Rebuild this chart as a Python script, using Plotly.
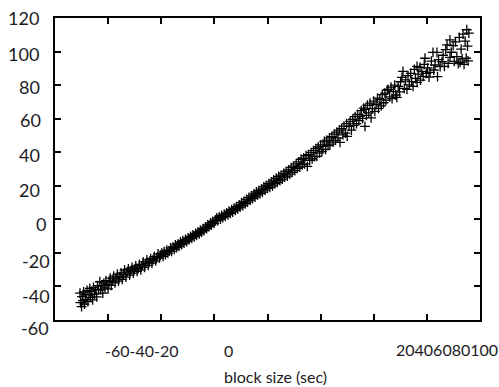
import plotly.graph_objects as go

# ---- data ----
X = [
    -50.6, -50.4, -50.0, -49.8, -49.5, -49.2, -48.9, -48.6, -48.3, -47.9, -47.6, -47.2, -46.9, -46.6, -46.2, -45.8,
    -45.5, -45.1, -44.7, -44.3, -44.0, -43.6, -43.1, -42.8, -42.4, -42.0, -41.6, -41.2, -40.8, -40.4, -40.0,
    -39.6, -39.2, -38.8, -38.3, -37.9, -37.4, -37.0, -36.5, -36.1, -35.6, -35.1, -34.7, -34.2, -33.8, -33.3,
    -32.9, -32.4, -31.9, -31.5, -31.0, -30.5, -30.1,
    -29.6, -29.1, -28.7, -28.2, -27.7, -27.3, -26.8, -26.3, -25.9, -25.4, -24.9, -24.5, -24.0, -23.5, -23.1,
    -22.6, -22.1, -21.7, -21.2, -20.7, -20.3,
    -19.8, -19.3, -18.9, -18.4, -17.9, -17.5, -17.0, -16.5, -16.1, -15.6, -15.1, -14.7, -14.2, -13.7, -13.3,
    -12.8, -12.3, -11.9, -11.4, -10.9, -10.4,
    -9.9, -9.5, -9.0, -8.5, -8.1, -7.6, -7.1, -6.7, -6.2, -5.7, -5.3, -4.8, -4.3, -3.9, -3.4, -2.9, -2.5, -2.0,
    -1.5, -1.1, -0.6, -0.1,
    0.4, 0.9, 1.3, 1.8, 2.3, 2.7, 3.2, 3.7, 4.1, 4.6, 5.1, 5.5, 6.0, 6.5, 6.9, 7.4, 7.9, 8.3, 8.8, 9.3, 9.7,
    10.2, 10.7, 11.1, 11.6, 12.1, 12.5, 13.0, 13.5, 13.9, 14.4, 14.9, 15.3, 15.8, 16.3, 16.7, 17.2, 17.7, 18.1,
    18.6, 19.1, 19.5,
    20.0, 20.5, 20.9, 21.4, 21.9, 22.3, 22.8, 23.3, 23.7, 24.2, 24.7, 25.1, 25.6, 26.1, 26.5, 27.0, 27.5, 27.9,
    28.4, 28.9, 29.3, 29.8,
    30.3, 30.8, 31.2, 31.7, 32.2, 32.6, 33.1, 33.6, 34.0, 34.5, 35.0, 35.4, 35.9, 36.4, 36.8, 37.3, 37.8, 38.2,
    38.6, 39.1, 39.6, 40.0,
    40.5, 40.9, 41.4, 41.9, 42.3, 42.8, 43.3, 43.5, 44.2, 44.7, 45.1, 45.6, 46.1, 46.5, 47.0, 47.3, 47.9, 48.4,
    48.8, 49.3, 49.8, 50.0,
    50.7, 51.1, 51.6, 52.1, 52.5, 53.0, 53.5, 53.9, 54.4, 54.8, 55.3, 55.8, 56.2, 56.7, 56.7, 57.2, 57.6, 58.1,
    58.6, 59.0, 59.5, 60.0,
    60.4, 60.9, 61.4, 61.8, 62.3, 62.8, 63.2, 63.7, 64.2, 64.6, 65.1, 65.4, 66.0, 66.5, 66.9, 67.4, 67.9, 68.3,
    68.7, 69.2, 69.7, 70.1,
    70.6, 71.0, 71.5, 72.0, 72.5, 72.9, 73.4, 73.9, 74.3, 74.8, 75.3, 75.7, 76.3, 76.3, 76.7, 77.4, 77.6, 78.1,
    78.6, 79.0, 79.3, 79.8,
    80.3, 80.8, 81.2, 81.7, 82.3, 82.6, 83.1, 83.8, 84.0, 84.4, 85.0, 85.7, 86.1, 86.6, 87.1, 87.6, 88.0, 88.7,
    88.7, 89.2, 89.9, 90.3, 90.8, 91.3, 91.8, 92.2, 92.5, 92.9, 93.3, 93.6, 94.0, 94.4, 94.8, 95.0, 95.3, 95.5,
    95.8,
]
Y = [
    -44.0, -49.7, -52.0, -46.1, -48.5, -43.2, -50.5, -45.0, -47.8, -42.4, -49.0, -44.8, -41.2, -46.5, -43.0, -48.0,
    -40.5, -44.6, -42.0, -46.2, -39.5, -41.8, -37.2, -42.1, -39.6, -44.0, -38.0, -40.8, -36.5, -39.1, -41.5,
    -37.2, -35.1, -39.4, -36.2, -33.8, -37.9, -35.0, -32.6, -36.8, -34.1, -31.9, -35.8, -33.0, -30.2, -34.4,
    -31.5, -29.6, -33.2, -30.8, -28.7, -32.1, -29.9,
    -27.8, -31.0, -29.2, -26.9, -30.1, -27.7, -25.3, -28.6, -26.4, -24.2, -27.5, -25.3, -23.4, -26.1, -24.0,
    -22.2, -24.8, -22.9, -20.6, -23.1, -21.3,
    -20.1, -22.0, -19.2, -21.0, -18.3, -20.2, -18.9, -17.0, -19.1, -16.4, -17.9, -15.2, -16.8, -14.6, -16.1,
    -13.5, -15.0, -12.7, -14.1, -11.9, -13.2,
    -11.0, -12.3, -10.2, -11.4, -9.3, -10.5, -8.4, -9.6, -7.5, -8.7, -6.4, -7.6, -5.5, -6.7, -4.6, -5.5, -3.3, -4.4,
    -2.2, -3.4, -1.3, -2.4,
    -0.4, 0.9, -0.8, 1.5, 0.2, 2.3, 1.0, 3.1, 1.8, 3.9, 2.6, 4.9, 3.6, 5.8, 4.3, 6.6, 5.4, 7.5, 6.2, 8.6, 7.3,
    9.9, 8.2, 10.7, 9.3, 11.9, 10.2, 13.1, 11.4, 14.0, 12.3, 15.2, 13.3, 16.3, 14.6, 17.1, 15.4, 18.0, 16.2,
    19.3, 17.4, 20.2,
    18.4, 21.2, 19.1, 22.3, 20.0, 23.4, 21.2, 24.5, 22.0, 25.6, 23.1, 26.3, 24.0, 27.4, 25.1, 28.6, 25.8, 29.5,
    27.0, 30.8, 28.0, 31.7,
    29.1, 33.0, 30.4, 34.2, 31.2, 35.8, 32.6, 36.4, 33.0, 37.9, 31.6, 38.6, 35.2, 39.8, 36.1, 41.0, 37.4, 42.2,
    37.5, 43.1, 39.6, 44.4,
    40.5, 43.5, 46.4, 41.7, 47.2, 43.9, 48.6, 44.8, 49.3, 46.0, 50.8, 47.1, 52.0, 48.5, 53.2, 45.9, 54.1, 50.3,
    55.6, 51.4, 57.0, 49.5,
    55.4, 58.4, 53.2, 59.6, 56.0, 61.2, 57.1, 62.5, 58.8, 61.4, 64.8, 60.2, 66.3, 55.4, 65.5, 62.0, 68.0, 63.4,
    69.3, 60.5, 66.0, 70.4,
    64.4, 68.6, 72.2, 66.1, 71.5, 67.6, 74.3, 69.5, 75.2, 71.0, 77.0, 77.5, 73.0, 78.8, 71.9, 76.2, 80.0, 74.1,
    72.7, 79.3, 76.0, 82.0,
    84.6, 88.2, 78.0, 83.1, 77.5, 85.6, 80.2, 87.0, 82.1, 79.3, 89.4, 84.0, 81.6, 91.2, 86.6, 90.6, 83.0, 88.1,
    85.2, 92.4, 96.0, 87.0,
    90.3, 84.8, 87.6, 94.3, 99.5, 89.0, 92.0, 99.5, 85.0, 95.2, 91.0, 94.0, 97.8, 91.2, 101.2, 104.0, 93.0, 96.5,
    107.0, 99.6, 103.5, 94.2, 105.8, 97.0, 92.8, 108.4, 93.5, 101.5, 95.6, 110.4, 92.4, 106.2, 96.0, 113.0, 103.2, 94.5,
    111.0,
]

X_TICKS = [-60, -40, -20, 0, 20, 40, 60, 80, 100]
Y_TICKS = [120, 100, 80, 60, 40, 20, 0, -20, -40, -60]
X_TITLE = "block size (sec)"

# the x tick labels are printed in three run-together groups
X_LABEL_GROUPS = [
    "".join(str(v) for v in X_TICKS[0:3]),
    str(X_TICKS[3]),
    "".join(str(v) for v in X_TICKS[4:]),
]

# ---- layout / style (not data) ----
W, H = 499, 387
ML, MR, MT, MB = 55, 19, 18, 67
PW = W - ML - MR
FONT = "Lato"
TXT = "#1c1c24"

X_GROUP_CENTER_PX = [141.5, 228, 446.5]
X_GROUP_CENTER_PY = [350, 350, 349]
Y_LABEL_RIGHT_PX = [41, 41, 42, 42.5, 42, 42, 48, 52, 52, 51]
Y_LABEL_SHIFT = [0, -2, -1.5, -1.5, -3, -4, -4.5, -8, -9.5, -7.5]

fig = go.Figure()
fig.add_trace(go.Scatter(
    x=X, y=Y, mode="markers",
    marker=dict(symbol="cross-thin", size=7, color="black",
                line=dict(color="black", width=1.3)),
    showlegend=False, hoverinfo="skip",
))

axis_common = dict(
    showgrid=False, zeroline=False, showline=True, linecolor="black", linewidth=1.5,
    mirror="ticks", ticks="inside", ticklen=6, tickwidth=1.5, tickcolor="black",
    showticklabels=False,
)
fig.update_xaxes(range=[X_TICKS[0], X_TICKS[-1]], tickvals=X_TICKS[1:-1], **axis_common)
fig.update_yaxes(range=[Y_TICKS[-1], Y_TICKS[0]], tickvals=Y_TICKS[1:-1], **axis_common)

annotations = []
for txt, cx, cy in zip(X_LABEL_GROUPS, X_GROUP_CENTER_PX, X_GROUP_CENTER_PY):
    annotations.append(dict(
        text=txt, xref="paper", yref="paper", x=(cx - ML) / PW, y=0,
        xanchor="center", yanchor="middle", yshift=-(cy - (H - MB)),
        showarrow=False, font=dict(family=FONT, size=16, color=TXT),
    ))
for v, rx, sh in zip(Y_TICKS, Y_LABEL_RIGHT_PX, Y_LABEL_SHIFT):
    annotations.append(dict(
        text=str(v), xref="paper", yref="y", x=0, y=v,
        xanchor="right", yanchor="middle", xshift=rx - ML, yshift=sh,
        showarrow=False, font=dict(family=FONT, size=18, color=TXT),
    ))
annotations.append(dict(
    text=X_TITLE, xref="paper", yref="paper", x=(275.5 - ML) / PW, y=0,
    xanchor="center", yanchor="middle", yshift=-(376 - (H - MB)),
    showarrow=False, font=dict(family=FONT, size=16, color=TXT),
))

fig.update_layout(
    width=W, height=H, margin=dict(l=ML, r=MR, t=MT, b=MB, pad=0),
    paper_bgcolor="white", plot_bgcolor="white",
    annotations=annotations,
)

fig.write_html(
    "out.html",
    config={"displayModeBar": False},
    post_script="document.body.style.margin='0';document.body.style.padding='0';",
)
